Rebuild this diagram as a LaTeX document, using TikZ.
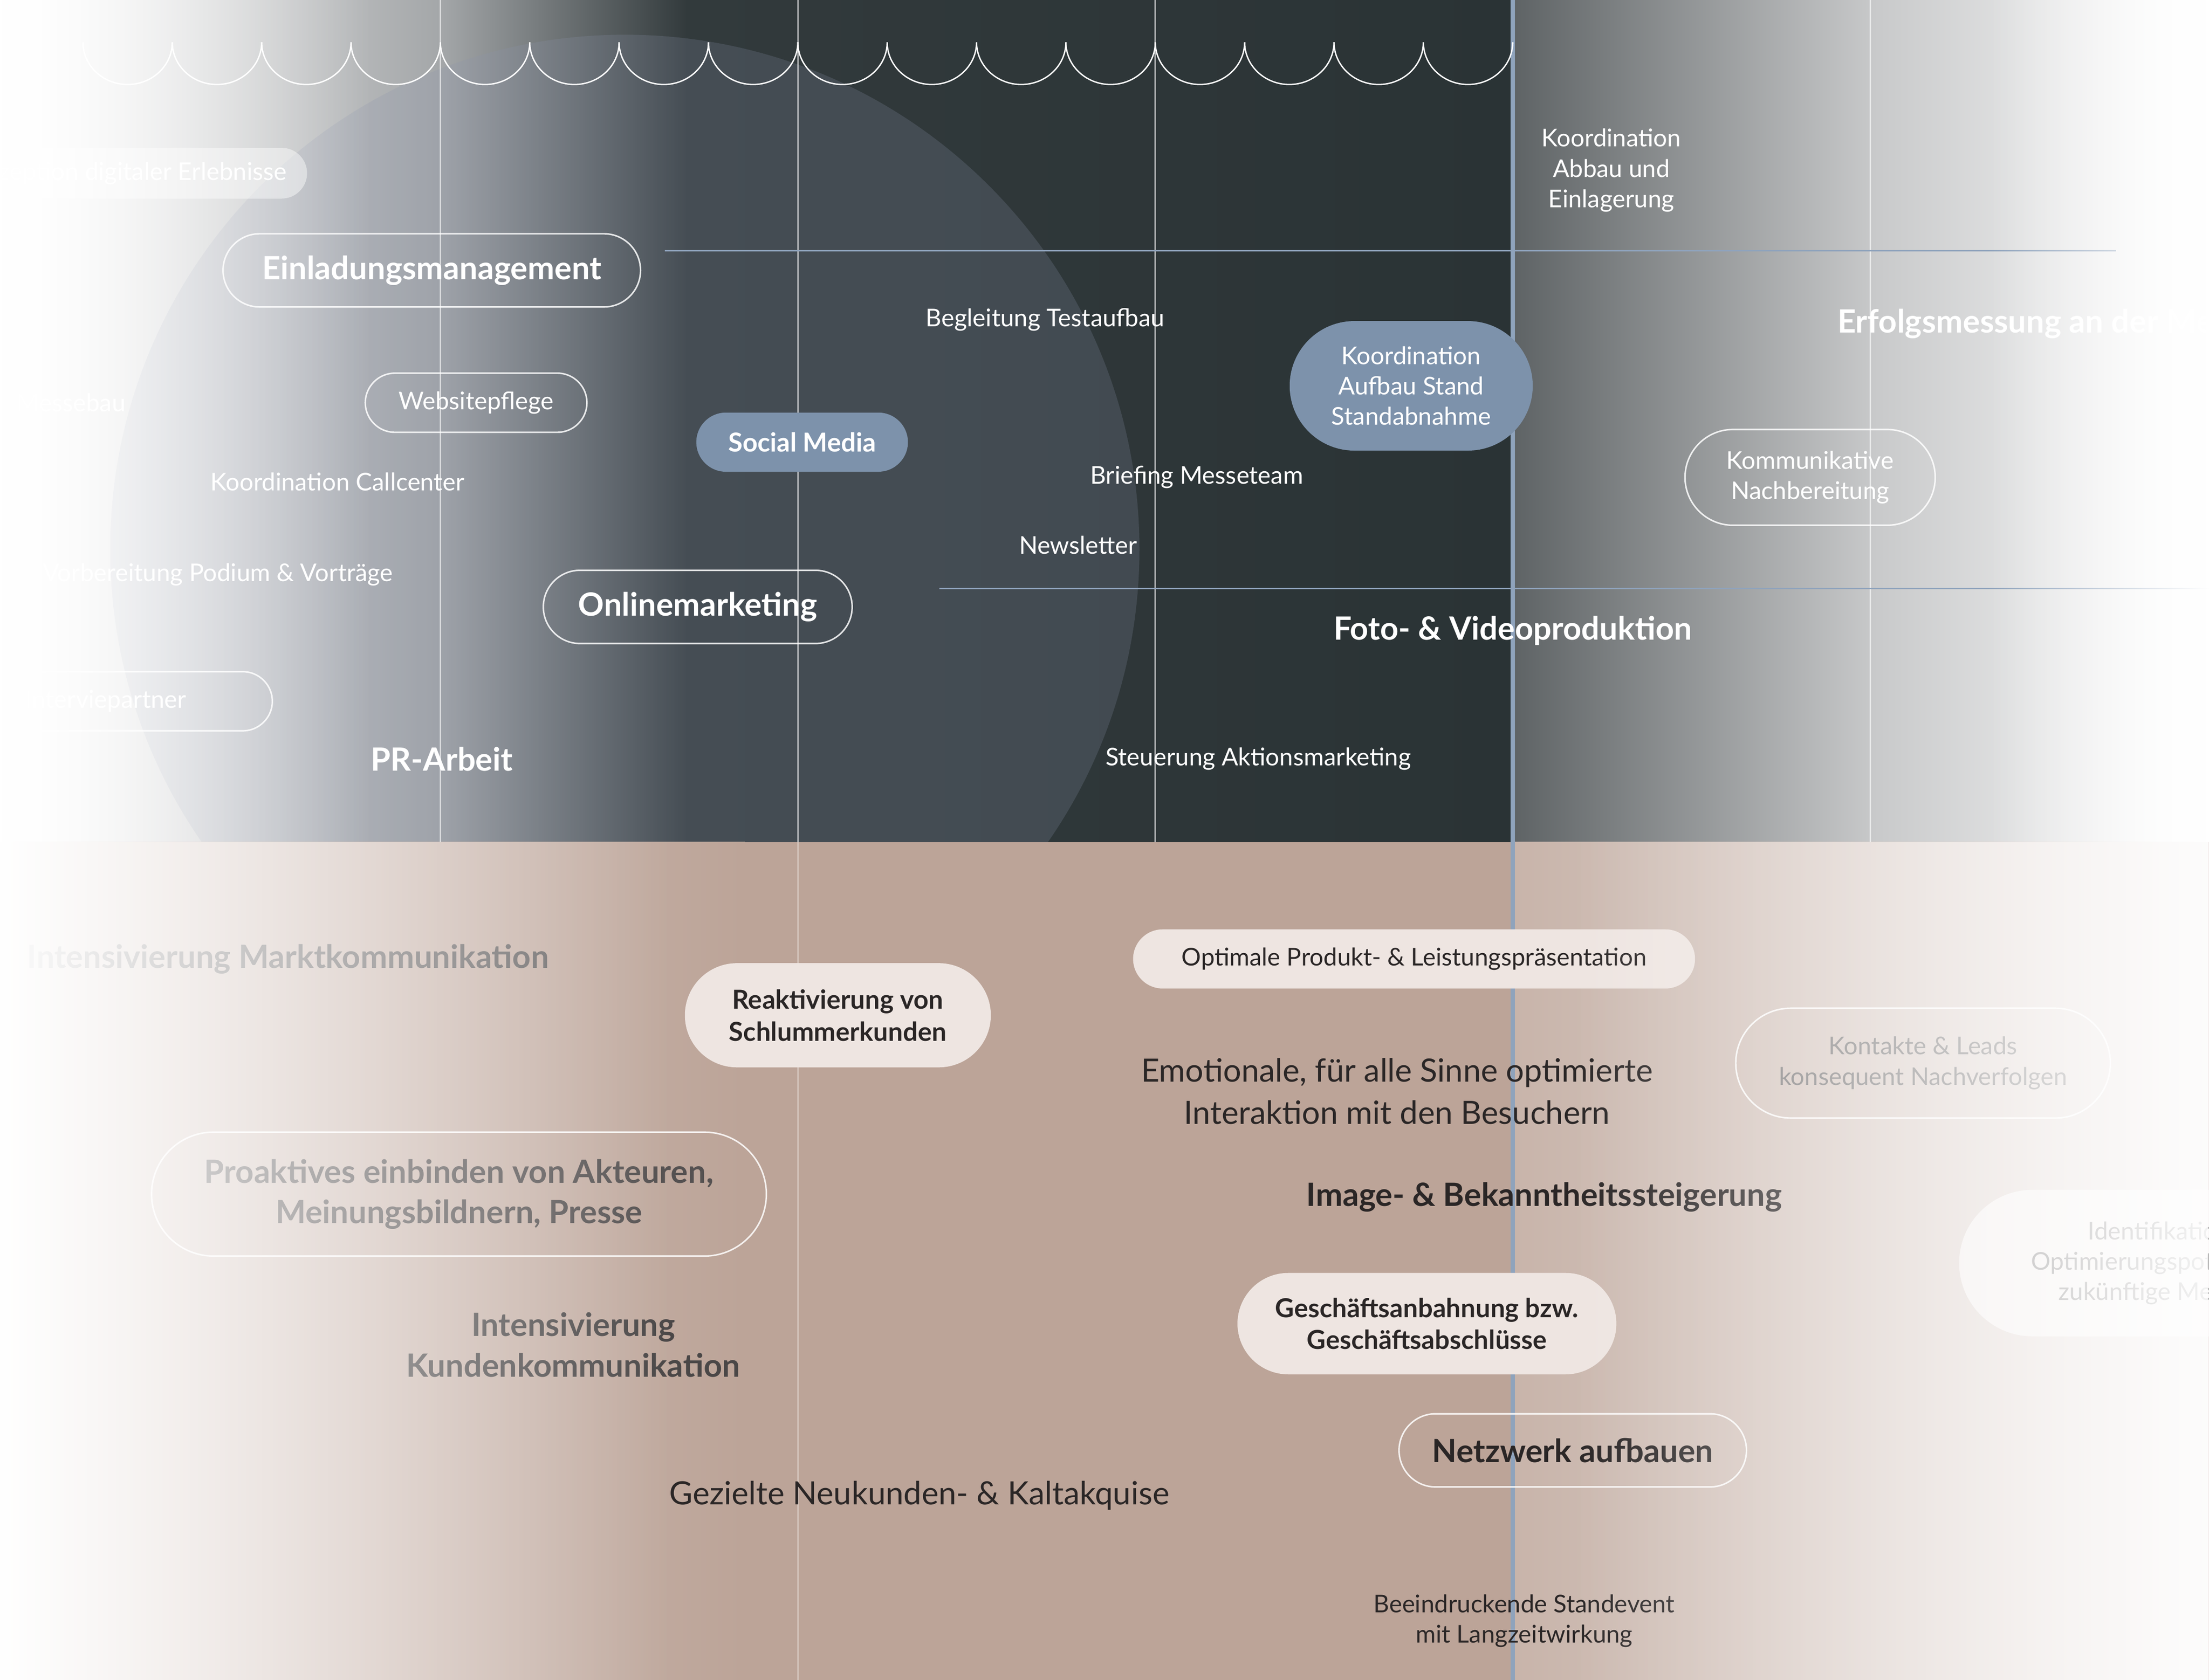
\documentclass[tikz,border=0pt]{standalone}
\usepackage{fontspec}
\setmainfont{Lato}
\usetikzlibrary{shapes.misc,fadings}
\tikzfading[name=fadeR, left color=transparent!100, right color=transparent!0]
\tikzfading[name=fadeL, left color=transparent!0, right color=transparent!100]
\definecolor{pblue}{HTML}{7D92AB}
\definecolor{lineblue}{HTML}{8FA3BC}
\definecolor{pillrose}{HTML}{EEE5E1}
\definecolor{dtext}{HTML}{2A2626}
\definecolor{tA}{HTML}{EBEBEB}
\definecolor{tB}{HTML}{A3A6A8}
\definecolor{tC}{HTML}{323A3C}
\definecolor{tD}{HTML}{2A3335}
\definecolor{tE}{HTML}{5E6365}
\definecolor{tF}{HTML}{C8C9CA}
\definecolor{circ}{HTML}{8C94AC}
\definecolor{bA}{HTML}{DCCEC8}
\definecolor{bB}{HTML}{BCA498}
\definecolor{bC}{HTML}{C8B4AA}
\definecolor{bD}{HTML}{ECE5E2}
\begin{document}
\begin{tikzpicture}[x=0.029786cm,y=-0.029346cm,
  sm/.style={font=\fontsize{14.5}{18}\selectfont, align=center},
  bg/.style={font=\fontsize{19}{24}\selectfont\bfseries, align=center},
  md/.style={font=\fontsize{19}{25}\selectfont, align=center},
  pill/.style 2 args={rounded rectangle, inner sep=0pt, minimum width=#1*0.029786cm, minimum height=#2*0.029346cm, align=center},
  outl/.style={draw=white, draw opacity=.85, line width=0.9pt},
  topt/.style={text=white},
  bott/.style={text=dtext},
  vline/.style={white, opacity=.6, line width=0.8pt}]
\useasboundingbox (0,0) rectangle (1545,1193);
% ---------- top background
\shade[left color=white, right color=tA] (0,0) rectangle (61,598);
\shade[left color=tA, right color=tB] (60,0) rectangle (311,598);
\shade[left color=tB, right color=tC] (310,0) rectangle (481,598);
\shade[left color=tC, right color=tD] (480,0) rectangle (1058,598);
\shade[left color=tE, right color=tF] (1058,0) rectangle (1311,598);
\shade[left color=tF, right color=white] (1310,0) rectangle (1545,598);
% circle
\begin{scope}
\clip (0,0) rectangle (1545,598);
\fill[circ, opacity=.22] (437,390) circle[radius=10.72cm];
\end{scope}
% ---------- bottom background
\shade[left color=bA, right color=bB] (0,598) rectangle (521,1193);
\fill[bB] (520,598) rectangle (1058,1193);
\shade[left color=bC, right color=bD] (1058,598) rectangle (1545,1193);
% ---------- grid lines
\foreach \x in {308,558,808,1308} \draw[vline] (\x,0) -- (\x,598);
\draw[white, opacity=.35, line width=0.8pt] (558,598) -- (558,1193);
\draw[lineblue, line width=2.5pt] (1058,0) -- (1058,1193);
\draw[lineblue, line width=1pt] (465,178) -- (1480,178);
\draw[lineblue, line width=1pt] (657,418) -- (1545,418);
% scallops
\foreach \i in {0,...,15} {
  \draw[white, line width=0.8pt] ({58+62.5*\i},30) arc[start angle=180, end angle=360, x radius=31.25*0.029786cm, y radius=30*0.029346cm];
}
% ---------- top nodes
\node[pill={300}{36}, fill=white, fill opacity=.45, text opacity=1, topt, sm, anchor=east] (erl) at (215,123) {\hspace*{1.2cm}Konzeption digitaler Erlebnisse};
\node[pill={292}{52}, outl, topt, bg] (ein) at (302,192) {Einladungsmanagement};
\node[topt, sm] (abb) at (1127,121) {Koordination\\Abbau und\\Einlagerung};
\node[topt, sm] (test) at (731,227) {Begleitung Testaufbau};
\node[pill={170}{92}, fill=pblue, topt, sm] (auf) at (987,274) {Koordination\\Aufbau Stand\\Standabnahme};
\node[topt, bg, anchor=west] (erf) at (1281,230) {Erfolgsmessung an der Messe};
\node[pill={155}{42}, outl, topt, sm] (web) at (333,286) {Websitepflege};
\node[topt, sm, anchor=east] (mes) at (92,286) {Messebau};
\node[pill={148}{42}, fill=pblue, topt, font=\fontsize{15.5}{18}\selectfont\bfseries] (soc) at (561,314) {Social Media};
\node[topt, sm] (call) at (236,342) {Koordination Callcenter};
\node[topt, sm] (brief) at (837,339) {Briefing Messeteam};
\node[pill={175}{68}, outl, topt, sm] (nach) at (1266,339) {Kommunikative\\Nachbereitung};
\node[topt, sm] (news) at (754,387) {Newsletter};
\node[topt, sm, anchor=east] (pod) at (279,408) {Vorbereitung Podium \& Vorträge};
\node[pill={216}{52}, outl, topt, bg] (onl) at (488,431) {Onlinemarketing};
\node[topt, bg] (foto) at (1058,448) {Foto- \& Videoproduktion};
\node[pill={300}{42}, outl, topt, sm, anchor=east] (int) at (191,498) {\hspace*{2cm}Interviepartner};
\node[topt, bg] (pr) at (309,539) {PR-Arbeit};
\node[topt, sm] (akt) at (880,539) {Steuerung Aktionsmarketing};
% top edge fades
\fill[white, path fading=fadeL] (0,0) rectangle (260,598);
\fill[white, path fading=fadeR] (1390,0) rectangle (1545,598);
% ---------- bottom nodes
\node[bott, bg, text=dtext!70, anchor=east] (mark) at (388,681) {Intensivierung Marktkommunikation};
\node[pill={214}{74}, fill=pillrose, bott, font=\fontsize{15.5}{19}\selectfont\bfseries] (reak) at (586,721) {Reaktivierung von\\Schlummerkunden};
\node[pill={393}{42}, fill=pillrose, bott, sm] (opt) at (989,681) {Optimale Produkt- \& Leistungspräsentation};
\node[bott, md] (emo) at (977,775) {Emotionale, für alle Sinne optimierte\\Interaktion mit den Besuchern};
\node[pill={262}{78}, outl, text=dtext!60, sm] (kon) at (1345,755) {Kontakte \& Leads\\konsequent Nachverfolgen};
\node[pill={430}{88}, outl, text=dtext!80, bg] (pro) at (321,848) {Proaktives einbinden von Akteuren,\\Meinungsbildnern, Presse};
\node[bott, bg] (img) at (1080,850) {Image- \& Bekanntheitssteigerung};
\node[pill={280}{104}, fill=white, fill opacity=.6, text opacity=1, text=dtext!60, sm, anchor=west] (ide) at (1370,897) {Identifikation\\Optimierungspotenziale\\zukünftige Messen};
\node[bott, bg, text=dtext!85] (kund) at (401,955) {Intensivierung\\Kundenkommunikation};
\node[pill={265}{72}, fill=pillrose, bott, font=\fontsize{15.5}{19}\selectfont\bfseries] (ges) at (998,940) {Geschäftsanbahnung bzw.\\Geschäftsabschlüsse};
\node[pill={243}{52}, outl, bott, bg] (netz) at (1100,1030) {Netzwerk aufbauen};
\node[bott, md] (neu) at (643,1062) {Gezielte Neukunden- \& Kaltakquise};
\node[bott, sm] (bee) at (1066,1151) {Beeindruckende Standevent\\mit Langzeitwirkung};
% bottom edge fades
\fill[white, path fading=fadeL] (0,598) rectangle (470,1193);
\fill[white, opacity=.9, path fading=fadeR] (1100,598) rectangle (1545,1193);
\end{tikzpicture}
\end{document}
